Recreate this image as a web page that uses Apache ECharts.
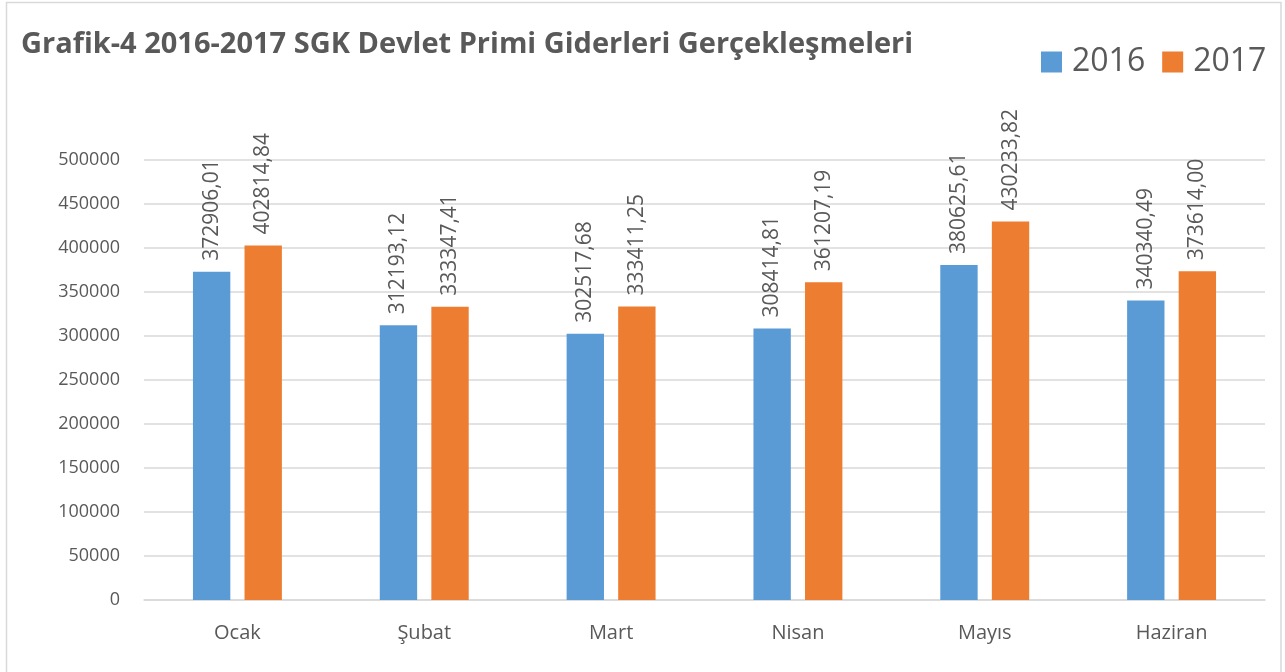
<!DOCTYPE html>
<html>
<head>
<meta charset="utf-8">
<script src="https://cdn.jsdelivr.net/npm/echarts@6/dist/echarts.min.js"></script>
<style>
  html, body { margin: 0; padding: 0; background: #fff; }
  #chart { width: 1285px; height: 672px; }
</style>
</head>
<body>
<div id="chart"></div>
<script>
const months = ['Ocak', 'Şubat', 'Mart', 'Nisan', 'Mayıs', 'Haziran'];
const values2016 = [372906.01, 312193.12, 302517.68, 308414.81, 380625.61, 340340.49];
const values2017 = [402814.84, 333347.41, 333411.25, 361207.19, 430233.82, 373614.00];
const yTicks = { min: 0, max: 500000, step: 50000 };

let myChart = echarts.init(document.getElementById('chart'));

const gray = '#595959';
const fmt = p => p.value.toFixed(2).replace('.', ',');

const barLabel = {
  show: true,
  position: 'top',
  rotate: 90,
  distance: 11,
  align: 'left',
  verticalAlign: 'middle',
  color: gray,
  fontFamily: 'Open Sans',
  fontSize: 21,
  formatter: fmt
};

let option = {
  backgroundColor: '#fff',
  animation: false,
  title: {
    text: 'Grafik-4 2016-2017 SGK Devlet Primi Giderleri Gerçekleşmeleri',
    left: 21,
    top: 30,
    padding: 0,
    textStyle: {
      color: gray,
      fontFamily: 'Open Sans',
      fontWeight: 'bold',
      fontSize: 29
    }
  },
  legend: {
    left: 1041,
    top: 46,
    padding: 0,
    itemWidth: 21,
    itemHeight: 21,
    itemGap: 17,
    icon: 'rect',
    textStyle: {
      color: gray,
      fontFamily: 'Open Sans',
      fontSize: 32,
      padding: [0, 0, 0, 5]
    },
    data: ['2016', '2017']
  },
  grid: {
    left: 144,
    right: 20,
    top: 160,
    bottom: 72,
    containLabel: false
  },
  xAxis: {
    type: 'category',
    data: months,
    axisLine: { show: true, lineStyle: { color: '#D9D9D9', width: 1.5 } },
    axisTick: { show: false },
    axisLabel: {
      color: gray,
      fontFamily: 'Open Sans',
      fontSize: 20,
      margin: 23
    }
  },
  yAxis: {
    type: 'value',
    min: yTicks.min,
    max: yTicks.max,
    interval: yTicks.step,
    axisLine: { show: false },
    axisTick: { show: false },
    splitLine: { lineStyle: { color: '#D9D9D9', width: 1.5 } },
    axisLabel: {
      color: gray,
      fontFamily: 'Open Sans',
      fontSize: 18,
      margin: 24,
      formatter: v => String(v)
    }
  },
  series: [
    {
      name: '2016',
      type: 'bar',
      data: values2016,
      barWidth: '20%',
      barGap: '38%',
      itemStyle: { color: '#5B9BD5' },
      label: barLabel
    },
    {
      name: '2017',
      type: 'bar',
      data: values2017,
      barWidth: '20%',
      barGap: '38%',
      itemStyle: { color: '#ED7D31' },
      label: barLabel
    }
  ],
  graphic: [
    {
      type: 'rect',
      shape: { x: 6.5, y: 2.5, width: 1274.5, height: 700 },
      style: { fill: 'none', stroke: '#D9D9D9', lineWidth: 1.5 },
      silent: true
    }
  ]
};

myChart.setOption(option);
</script>
</body>
</html>
